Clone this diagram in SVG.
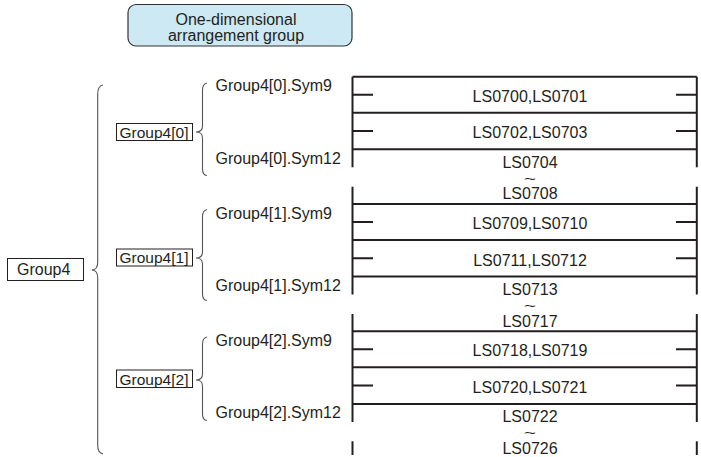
<svg xmlns="http://www.w3.org/2000/svg" width="701" height="457" viewBox="0 0 701 457">
<style>
text{font-family:"Liberation Sans",Arial,sans-serif;font-size:16px;fill:#231f20}
.c{text-anchor:middle}
.t{font-size:12px}
.g{font-size:15.5px}
.box{fill:#fff;stroke:#231f20;stroke-width:1}
.title{fill:#cde9f3;stroke:#333;stroke-width:1.2}
.br{fill:none;stroke:#555;stroke-width:1.1}
.ln{stroke:#231f20;stroke-width:2;fill:none}
</style>
<rect width="701" height="457" fill="#fff"/>
<g id="title">
<rect class="title" x="128" y="4.5" width="224" height="41.5" rx="8"/>
<text class="c" x="236" y="25">One-dimensional</text>
<text class="c" x="236" y="41">arrangement group</text>
</g>
<g id="group4">
<rect class="box" x="7.5" y="258.5" width="76" height="22"/>
<text x="17" y="275">Group4</text>
</g>
<g id="group4-0">
<rect class="box" x="116.5" y="123.5" width="76" height="17"/>
<text class="g" x="119.5" y="137.5">Group4[0]</text>
<text x="215.5" y="91">Group4[0].Sym9</text>
<text x="215.5" y="164">Group4[0].Sym12</text>
</g>
<g id="group4-1">
<rect class="box" x="116.5" y="249" width="76" height="17"/>
<text class="g" x="119.5" y="263">Group4[1]</text>
<text x="215.5" y="218.5">Group4[1].Sym9</text>
<text x="215.5" y="290.5">Group4[1].Sym12</text>
</g>
<g id="group4-2">
<rect class="box" x="116.5" y="370" width="76" height="17.5"/>
<text class="g" x="119.5" y="384.5">Group4[2]</text>
<text x="215.5" y="346">Group4[2].Sym9</text>
<text x="215.5" y="417.5">Group4[2].Sym12</text>
</g>
<g id="relays">
<text class="c" x="530" y="101.7">LS0700,LS0701</text>
<text class="c" x="530" y="138.3">LS0702,LS0703</text>
<text class="c" x="530" y="167.5">LS0704</text>
<text class="c t" x="530" y="182.5" textLength="12" lengthAdjust="spacingAndGlyphs">~</text>
<text class="c" x="530" y="199.3">LS0708</text>
<text class="c" x="530" y="229">LS0709,LS0710</text>
<text class="c" x="530" y="265.6">LS0711,LS0712</text>
<text class="c" x="530" y="294.8">LS0713</text>
<text class="c t" x="530" y="309.8" textLength="12" lengthAdjust="spacingAndGlyphs">~</text>
<text class="c" x="530" y="326.6">LS0717</text>
<text class="c" x="530" y="356.3">LS0718,LS0719</text>
<text class="c" x="530" y="392.9">LS0720,LS0721</text>
<text class="c" x="530" y="422.1">LS0722</text>
<text class="c t" x="530" y="437.1" textLength="12" lengthAdjust="spacingAndGlyphs">~</text>
<text class="c" x="530" y="453.9">LS0726</text>
</g>
<g id="connectors">
<path class="br" d="M103,85 Q97.7,86 97.7,94 L97.7,262 Q97.7,270 91.7,270 Q97.7,270 97.7,278 L97.7,445 Q97.7,453 103,454"/>
<path class="br" d="M207,83 Q202.5,84 202.5,90 L202.5,126 Q202.5,132 196,132 Q202.5,132 202.5,138 L202.5,169 Q202.5,175 207,175.5"/>
<path class="br" d="M207,209.5 Q202.5,210.5 202.5,216.5 L202.5,252 Q202.5,258 196,258 Q202.5,258 202.5,264 L202.5,294 Q202.5,300 207,300.5"/>
<path class="br" d="M207,337 Q202.5,338 202.5,344 L202.5,374 Q202.5,380 196,380 Q202.5,380 202.5,386 L202.5,414 Q202.5,420 207,420.5"/>
<path class="ln" d="M352.5,76.7V167.3M696.8,76.7V167.3M352.5,186.7V294.6M696.8,186.7V294.6M352.5,314V421.9M696.8,314V421.9M352.5,441.3V455M696.8,441.3V455"/>
<path class="ln" d="M352.5,76.7H696.8M352.5,112.7H696.8M352.5,149.3H696.8M352.5,204H696.8M352.5,240H696.8M352.5,276.6H696.8M352.5,331.3H696.8M352.5,367.3H696.8M352.5,403.9H696.8"/>
<path class="ln" d="M352.5,94.7H373M676,94.7H696.8M352.5,131H373M676,131H696.8M352.5,222H373M676,222H696.8M352.5,258.3H373M676,258.3H696.8M352.5,349.3H373M676,349.3H696.8M352.5,385.6H373M676,385.6H696.8"/>
</g>
</svg>
